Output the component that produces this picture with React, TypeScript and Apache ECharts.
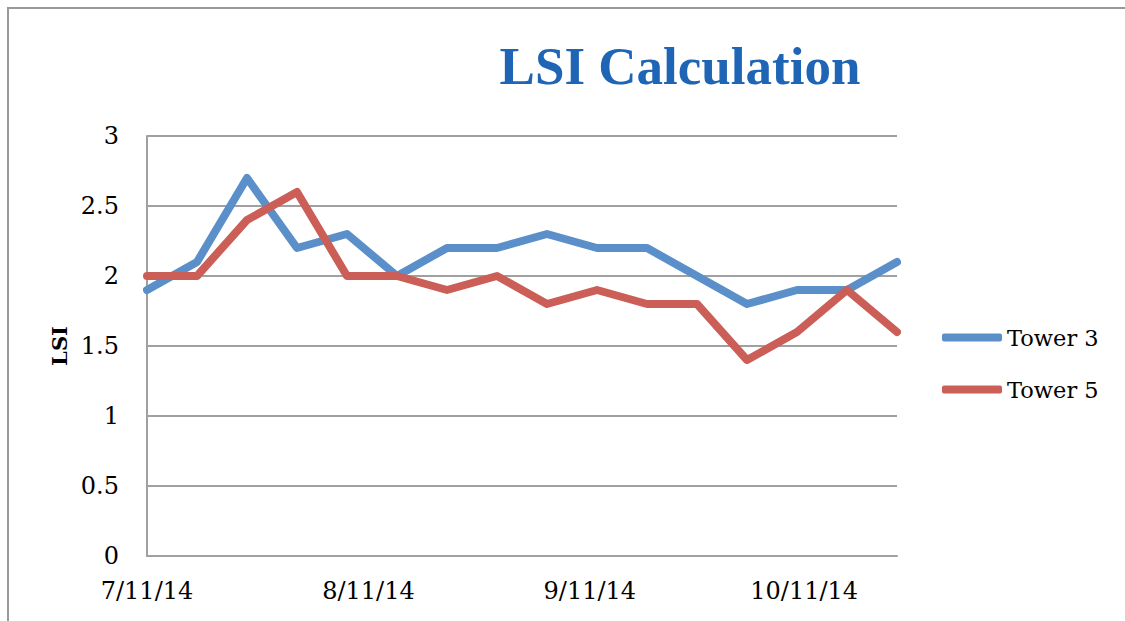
import React, { useEffect, useRef } from "react";
import * as echarts from "echarts";

const dates = [
  "2014-07-11", "2014-07-18", "2014-07-25", "2014-08-01",
  "2014-08-08", "2014-08-15", "2014-08-22", "2014-08-29",
  "2014-09-05", "2014-09-12", "2014-09-19", "2014-09-26",
  "2014-10-03", "2014-10-10", "2014-10-17", "2014-10-24",
];
const tower3 = [1.9, 2.1, 2.7, 2.2, 2.3, 2.0, 2.2, 2.2, 2.3, 2.2, 2.2, 2.0, 1.8, 1.9, 1.9, 2.1];
const tower5 = [2.0, 2.0, 2.4, 2.6, 2.0, 2.0, 1.9, 2.0, 1.8, 1.9, 1.8, 1.8, 1.4, 1.6, 1.9, 1.6];
const tickDates = ["2014-07-11", "2014-08-11", "2014-09-11", "2014-10-11"];
const tickLabels = ["7/11/14", "8/11/14", "9/11/14", "10/11/14"];

const DAY = 86400000;
const toMs = (d: string) => {
  const [y, m, dd] = d.split("-").map(Number);
  return Date.UTC(y, m - 1, dd);
};
const start = toMs(dates[0]);
const dayOf = (d: string) => Math.round((toMs(d) - start) / DAY);

const FONT = "'DejaVu Serif', serif";

export default function App() {
  const ref = useRef<HTMLDivElement>(null);
  useEffect(() => {
    if (!ref.current) return;
    const chart = echarts.init(ref.current, null, { renderer: "svg" });
    const tickDays = tickDates.map(dayOf);
    const labelMap: Record<number, string> = {};
    tickDays.forEach((d, i) => (labelMap[d] = tickLabels[i]));
    chart.setOption({
      animation: false,
      backgroundColor: "#ffffff",
      title: {
        text: "LSI Calculation",
        left: 675,
        top: 34,
        textAlign: "center",
        textStyle: {
          fontFamily: "'Liberation Serif', serif",
          fontWeight: "bold",
          fontSize: 53,
          color: "#1F65B5",
        },
      },
      graphic: [
        {
          type: "polyline",
          shape: { points: [[8, 621], [8, 8], [1125, 8]] },
          style: { stroke: "#999999", lineWidth: 2, fill: "none" },
          silent: true,
        },
      ],
      legend: {
        orient: "vertical",
        left: 942,
        top: 326,
        padding: 0,
        itemWidth: 60,
        itemHeight: 8,
        itemGap: 29,
        icon: "roundRect",
        textStyle: { fontFamily: FONT, fontSize: 22.5, color: "#000" },
        data: ["Tower 3", "Tower 5"],
      },
      grid: { left: 147, right: 228, top: 136, bottom: 65, containLabel: false },
      xAxis: {
        type: "value",
        min: 0,
        max: dayOf(dates[dates.length - 1]),
        splitLine: { show: false },
        axisLine: { show: true, lineStyle: { color: "#A0A0A0", width: 2 } },
        axisTick: { show: false },
        axisLabel: {
          customValues: tickDays,
          formatter: (v: number) => labelMap[v] ?? "",
          fontFamily: FONT,
          fontSize: 24,
          color: "#000",
          margin: 23,
        },
      },
      yAxis: {
        type: "value",
        min: 0,
        max: 3,
        interval: 0.5,
        name: "LSI",
        nameLocation: "middle",
        nameGap: 70,
        nameRotate: 90,
        nameTextStyle: { fontFamily: FONT, fontWeight: "bold", fontSize: 21, color: "#000" },
        axisLine: { show: true, lineStyle: { color: "#A0A0A0", width: 2 } },
        axisTick: { show: false },
        splitLine: { lineStyle: { color: "#A0A0A0", width: 2 } },
        axisLabel: { fontFamily: FONT, fontSize: 24, color: "#000", margin: 28 },
      },
      series: [
        {
          name: "Tower 3",
          type: "line",
          data: dates.map((d, i) => [dayOf(d), tower3[i]]),
          symbol: "none",
          color: "#5B8FC9",
          lineStyle: { width: 8, cap: "round", join: "round", color: "#5B8FC9" },
        },
        {
          name: "Tower 5",
          type: "line",
          data: dates.map((d, i) => [dayOf(d), tower5[i]]),
          symbol: "none",
          color: "#CB5F58",
          lineStyle: { width: 8, cap: "round", join: "round", color: "#CB5F58" },
        },
      ],
    });
    return () => chart.dispose();
  }, []);
  return <div ref={ref} style={{ width: 1125, height: 621, position: "absolute", left: 0, top: 0 }} />;
}
